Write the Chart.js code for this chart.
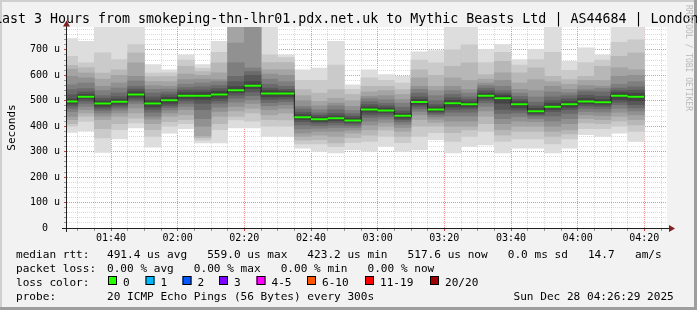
<!DOCTYPE html>
<html>
<head>
<meta charset="utf-8">
<script src="https://cdn.jsdelivr.net/npm/chart.js@4.4.1/dist/chart.umd.min.js"></script>
<style>
  html, body { margin: 0; padding: 0; background: #f2f2f2; }
  canvas { display: block; }
</style>
</head>
<body>
<canvas id="myChart" width="697" height="310"></canvas>
<script>
const titleText = 'Last 3 Hours from smokeping-thn-lhr01.pdx.net.uk to Mythic Beasts Ltd | AS44684 | London';

// start of each 5 minute bin
const binStart = ['01:25','01:30','01:35','01:40','01:45','01:50','01:55','02:00','02:05','02:10',
  '02:15','02:20','02:25','02:30','02:35','02:40','02:45','02:50','02:55','03:00',
  '03:05','03:10','03:15','03:20','03:25','03:30','03:35','03:40','03:45','03:50',
  '03:55','04:00','04:05','04:10','04:15'];

// median rtt per bin (us)
const medianRtt = [497, 516, 489, 496, 525, 489, 502, 520, 520, 525,
  541, 559, 529, 529, 435, 427, 431, 423, 466, 462,
  441, 495, 466, 490, 486, 520, 510, 486, 459, 477,
  486, 497, 494, 520, 516];

// 20 sorted ping rtts per bin (us)
const smoke = [
  [376,400,410,426,439,458,470,480,488,494,500,508,524,544,563,596,625,639,675,744],
  [382,419,439,452,465,478,490,500,508,513,519,525,535,548,570,590,609,630,649,734],
  [297,354,390,426,440,452,462,470,478,486,492,500,510,520,540,557,585,609,688,800],
  [350,386,410,439,452,463,472,480,487,493,499,506,516,531,550,570,600,622,662,800],
  [393,413,432,452,472,488,498,506,514,522,528,536,546,557,578,596,649,688,721,800],
  [318,360,386,410,428,439,455,466,476,485,493,502,515,530,545,560,576,595,609,642],
  [373,400,418,439,452,464,474,482,490,498,506,514,524,534,546,557,575,596,610,622],
  [390,410,426,445,465,478,490,500,508,516,524,532,542,552,565,583,605,635,660,681],
  [334,345,355,362,400,430,465,490,505,515,525,533,542,555,570,585,600,615,628,642],
  [334,386,410,439,458,475,490,500,510,520,530,538,548,560,575,583,610,649,690,734],
  [393,425,439,460,478,495,510,522,532,538,544,556,575,596,650,727,800,830,860,900],
  [393,420,452,470,490,504,520,535,548,556,562,575,600,615,629,800,830,860,890,920],
  [360,400,426,445,465,480,493,505,515,525,533,541,550,565,585,605,622,650,681,800],
  [360,400,425,452,470,485,497,507,516,526,532,538,545,557,575,600,622,650,670,681],
  [314,330,345,360,373,390,405,418,426,432,438,446,455,468,478,500,520,544,580,622],
  [301,330,347,365,380,392,402,412,418,424,430,436,443,452,465,480,498,530,580,629],
  [295,320,334,360,380,395,405,415,422,428,434,440,450,465,480,491,510,544,640,734],
  [308,335,355,373,385,395,403,410,416,420,426,432,440,450,462,478,500,525,545,563],
  [301,340,365,386,405,420,435,445,455,463,469,476,485,497,508,517,535,557,590,622],
  [321,360,385,400,415,428,438,447,454,460,465,472,480,490,504,520,540,557,580,603],
  [301,335,360,380,395,408,418,426,432,438,444,450,460,475,491,505,525,544,570,596],
  [308,360,400,426,445,458,468,478,486,492,498,505,515,530,545,557,590,622,660,692],
  [347,375,400,415,428,438,446,452,458,463,469,476,485,500,520,540,557,600,649,697],
  [295,340,375,400,420,440,455,466,476,486,494,502,512,525,540,557,590,635,700,800],
  [321,360,385,400,420,440,455,468,476,483,489,496,505,515,530,544,580,649,720,800],
  [327,380,410,439,460,478,492,502,510,517,523,530,540,550,560,570,585,603,650,701],
  [295,340,365,386,410,430,450,466,490,505,515,522,530,540,557,580,610,655,690,721],
  [314,350,380,400,420,438,452,463,472,482,490,497,505,517,530,545,570,610,640,662],
  [314,350,380,400,418,430,440,446,451,456,462,470,480,495,515,540,583,630,662,701],
  [295,330,360,380,400,420,440,458,466,473,481,490,500,515,535,557,575,596,690,800],
  [314,350,370,386,410,430,450,465,474,482,490,498,508,520,531,545,565,583,620,655],
  [367,390,413,430,445,458,470,480,488,494,500,510,522,536,544,560,580,596,650,708],
  [360,390,410,426,442,456,468,478,486,491,497,505,518,535,548,557,580,635,660,681],
  [373,400,420,439,455,470,485,495,505,516,524,532,540,550,565,596,630,675,730,800],
  [340,380,405,426,445,460,472,485,500,512,520,530,542,555,575,600,622,688,740,800]
];

const smokeGrays = ['#dddddd','#cacaca','#b7b7b7','#a4a4a4','#919191','#7e7e7e','#6b6b6b','#585858','#454545','#323232'];

const xLabels = ['01:40','02:00','02:20','02:40','03:00','03:20','03:40','04:00','04:20'];
const yLabels = [0, 100, 200, 300, 400, 500, 600, 700];

const lossLabels = ['0','1','2','3','4-5','6-10','11-19','20/20'];
const lossColors = ['#26ff00','#00b8ff','#0059ff','#7e00ff','#ff00ff','#ff5500','#ff0000','#a10000'];

const statRtt = '491.4 us avg   559.0 us max   423.2 us min   517.6 us now   0.0 ms sd   14.7';
const statLoss = '0.00 % avg   0.00 % max   0.00 % min   0.00 % now';
const probeText = '20 ICMP Echo Pings (56 Bytes) every 300s';
const stampText = 'Sun Dec 28 04:26:29 2025';

const mono = "'DejaVu Sans Mono', monospace";
const toMin = s => parseInt(s.slice(0, 2)) * 60 + parseInt(s.slice(3, 5));
const fmt = m => String(Math.floor(m / 60)).padStart(2, '0') + ':' + String(m % 60).padStart(2, '0');

const xMin = 86.8, xMax = 266.8, yMax = 790;
const minorGrid = 'rgba(140,140,140,0.32)';
const majorGrid = 'rgba(225,70,70,0.6)';

// smoke bands, outer pair first
const bandSets = smokeGrays.map((col, k) => ({
  type: 'bar',
  data: binStart.map((t, i) => ({ x: toMin(t) + 2.5, y: [smoke[i][k], smoke[i][19 - k]] })),
  backgroundColor: col,
  borderWidth: 0,
  grouped: false,
  barPercentage: 1,
  categoryPercentage: 1,
  order: 20 - k
}));

const stepPts = binStart.map((t, i) => ({ x: toMin(t), y: medianRtt[i] }));
stepPts.push({ x: toMin(binStart[binStart.length - 1]) + 5, y: medianRtt[medianRtt.length - 1] });

const greenPts = [];
binStart.forEach((t, i) => {
  greenPts.push({ x: toMin(t), y: medianRtt[i] });
  greenPts.push({ x: toMin(t) + 5, y: medianRtt[i] });
  greenPts.push({ x: toMin(t) + 5, y: null });
});

const decor = {
  id: 'decor',
  beforeDraw(chart) {
    const c = chart.ctx, a = chart.chartArea;
    c.save();
    c.fillStyle = '#f2f2f2';
    c.fillRect(0, 0, 697, 310);
    c.fillStyle = '#cfcfcf';
    c.fillRect(0, 0, 697, 2);
    c.fillRect(0, 0, 2, 310);
    c.fillStyle = '#9e9e9e';
    c.fillRect(0, 307, 697, 3);
    c.fillRect(694, 0, 3, 310);
    c.fillStyle = '#ffffff';
    c.fillRect(a.left, a.top, a.right - a.left, a.bottom - a.top);
    c.restore();
  },
  afterDraw(chart) {
    const c = chart.ctx;
    c.save();
    // axes
    c.strokeStyle = '#1f1f1f';
    c.lineWidth = 1;
    c.beginPath();
    c.moveTo(62, 228.5); c.lineTo(670, 228.5);
    c.moveTo(66.5, 232); c.lineTo(66.5, 24);
    c.stroke();
    c.fillStyle = '#801f1f';
    c.beginPath();
    c.moveTo(669, 225); c.lineTo(675, 228.5); c.lineTo(669, 232); c.closePath();
    c.fill();
    c.beginPath();
    c.moveTo(63, 26.5); c.lineTo(66.5, 20.5); c.lineTo(70, 26.5); c.closePath();
    c.fill();

    // title
    c.fillStyle = '#000';
    c.textBaseline = 'alphabetic';
    c.textAlign = 'left';
    c.font = '13.3px ' + mono;
    c.fillText(titleText, -6, 23);

    // y axis title
    c.save();
    c.translate(14.5, 127.5);
    c.rotate(-Math.PI / 2);
    c.textAlign = 'center';
    c.font = '11px ' + mono;
    c.fillText('Seconds', 0, 0);
    c.restore();

    // legend
    c.font = '11.1px ' + mono;
    c.fillText('median rtt:', 16, 258);
    c.fillText(statRtt, 107, 258);
    c.fillText('am/s', 635, 258);
    c.fillText('packet loss:', 16, 272);
    c.fillText(statLoss, 107, 272);
    c.fillText('loss color:', 16, 286);
    const boxX = [108, 145.5, 182.5, 219, 256.5, 307, 365, 430];
    lossLabels.forEach((lb, i) => {
      c.fillStyle = lossColors[i];
      c.fillRect(boxX[i], 276, 9, 9);
      c.strokeStyle = '#000';
      c.strokeRect(boxX[i] + 0.5, 276.5, 8, 8);
      c.fillStyle = '#000';
      c.fillText(lb, boxX[i] + 15, 286);
    });
    c.fillText('probe:', 16, 300);
    c.fillText(probeText, 107, 300);
    c.fillText(stampText, 513.5, 300);

    // watermark
    c.save();
    c.translate(686, 5);
    c.rotate(Math.PI / 2);
    c.fillStyle = '#b8b8b8';
    c.font = '8px ' + mono;
    c.textBaseline = 'alphabetic';
    c.fillText('RRDTOOL / TOBI OETIKER', 0, 0);
    c.restore();
    c.restore();
  }
};

const xTickVals = [];
for (let m = 90; m <= 265; m += 5) xTickVals.push(m);
const yTickVals = [];
for (let v = 0; v <= 780; v += 20) yTickVals.push(v);

new Chart(document.getElementById('myChart'), {
  type: 'bar',
  data: {
    datasets: [
      ...bandSets,
      {
        type: 'line',
        data: stepPts,
        borderColor: '#202020',
        borderWidth: 1,
        stepped: true,
        pointRadius: 0,
        fill: false,
        order: 1
      },
      {
        type: 'line',
        data: greenPts,
        borderColor: lossColors[0],
        borderWidth: 2,
        pointRadius: 0,
        spanGaps: false,
        fill: false,
        order: 0
      }
    ]
  },
  options: {
    responsive: false,
    animation: false,
    devicePixelRatio: 1,
    layout: { padding: { top: 27, right: 30, left: 0, bottom: 0 } },
    plugins: { legend: { display: false }, tooltip: { enabled: false }, title: { display: false } },
    scales: {
      x: {
        type: 'linear',
        min: xMin,
        max: xMax,
        offset: false,
        z: 1,
        afterFit: s => { s.height = 82; },
        afterBuildTicks: s => { s.ticks = xTickVals.map(v => ({ value: v })); },
        grid: {
          offset: false,
          color: ctx => (ctx.tick && ctx.tick.value % 20 === 0 ? majorGrid : minorGrid),
          tickColor: ctx => (ctx.tick && ctx.tick.value % 20 === 0 ? '#d04040' : '#999'),
          tickLength: 3,
          lineWidth: 1
        },
        border: { display: false, dash: [1, 1] },
        ticks: {
          autoSkip: false,
          maxRotation: 0,
          padding: 1,
          color: '#000',
          font: { family: mono, size: 10 },
          callback: v => (xLabels.includes(fmt(v)) ? fmt(v) : '')
        }
      },
      y: {
        min: 0,
        max: yMax,
        z: 1,
        afterFit: s => { s.width = 67; },
        afterBuildTicks: s => { s.ticks = yTickVals.map(v => ({ value: v })); },
        grid: {
          color: ctx => (ctx.tick && ctx.tick.value % 100 === 0 ? majorGrid : minorGrid),
          tickColor: ctx => (ctx.tick && ctx.tick.value % 100 === 0 ? '#d04040' : '#999'),
          tickLength: 3,
          lineWidth: 1
        },
        border: { display: false, dash: [1, 1] },
        ticks: {
          autoSkip: false,
          crossAlign: 'center',
          padding: 4,
          color: '#000',
          font: { family: mono, size: 10 },
          callback: v => (yLabels.includes(v) ? (v === 0 ? '0' : v + ' u') : '')
        }
      }
    }
  },
  plugins: [decor]
});
</script>
</body>
</html>
